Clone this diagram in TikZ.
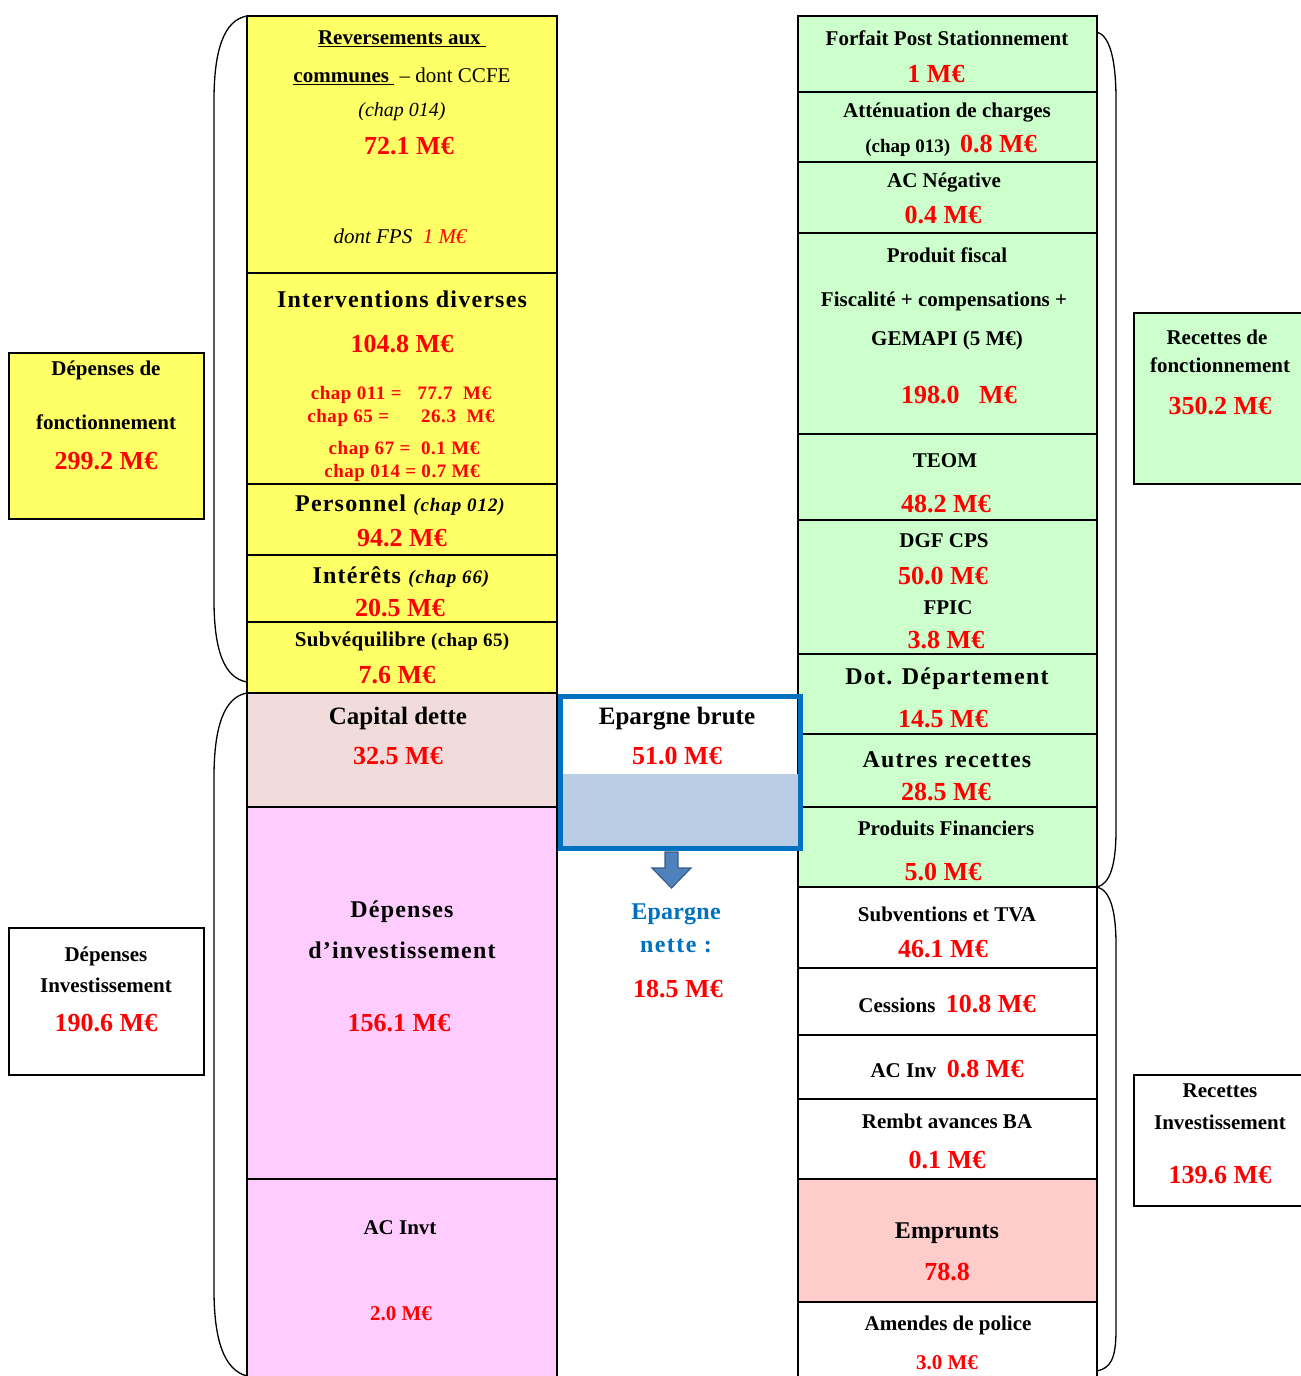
\documentclass[tikz,border=0pt]{standalone}
\usepackage{fontspec}
\setmainfont{Liberation Serif}
\definecolor{yel}{HTML}{FFFF66}
\definecolor{grn}{HTML}{CCFFCC}
\definecolor{pnk}{HTML}{FFCCFF}
\definecolor{capc}{HTML}{F2DCDB}
\definecolor{empc}{HTML}{FFCCCC}
\definecolor{eblue}{HTML}{0070C0}
\definecolor{lblue}{HTML}{B9CDE5}
\definecolor{arrf}{HTML}{4F81BD}
\definecolor{arrd}{HTML}{385D8A}
\definecolor{vred}{HTML}{FF0000}
\newcommand\fs[1]{\fontsize{#1}{#1}\selectfont}
% \cellnode{name}{fill}{x1}{y1}{x2}{y2}
\newcommand\cellnode[6]{\node[cellbox,fill=#2,minimum width={#5-#3},minimum height={#6-#4}] (#1) at (#3,#4) {};}
\begin{document}
\begin{tikzpicture}[x=1pt,y=-1pt,
  cellbox/.style={draw=black,line width=1.8pt,anchor=north west,inner sep=0pt,outer sep=0pt},
  tl/.style={inner sep=0pt,font=\bfseries\fs{21}},
  tb/.style={inner sep=0pt,font=\bfseries\fs{25}},
  tsp/.style={inner sep=0pt,font=\bfseries\fs{24}\addfontfeature{LetterSpace=5}},
  val/.style={inner sep=0pt,text=vred,font=\bfseries\fs{26}},
  vals/.style={inner sep=0pt,text=vred,font=\bfseries\fs{21}},
  chp/.style={inner sep=0pt,text=vred,font=\bfseries\fs{19}\addfontfeature{LetterSpace=3}},
  bracestyle/.style={draw=black,line width=1.3pt}]
\useasboundingbox (0,0) rectangle (1301,1376);
\clip (0,0) rectangle (1301,1376);
\fill[white] (0,0) rectangle (1301,1376);

% ---- left column
\cellnode{rev}{yel}{247}{16}{557}{273}
\cellnode{intv}{yel}{247}{273}{557}{484}
\cellnode{pers}{yel}{247}{484}{557}{555}
\cellnode{inter}{yel}{247}{555}{557}{622}
\cellnode{subv}{yel}{247}{622}{557}{693}
\cellnode{capd}{capc}{247}{693}{557}{807}
\cellnode{dinv}{pnk}{247}{807}{557}{1179}
\cellnode{acinvt}{pnk}{247}{1179}{557}{1400}

% ---- right column
\cellnode{fps}{grn}{798}{16}{1097}{92}
\cellnode{att}{grn}{798}{92}{1097}{162}
\cellnode{acneg}{grn}{798}{162}{1097}{233}
\cellnode{pfisc}{grn}{798}{233}{1097}{434}
\cellnode{teom}{grn}{798}{434}{1097}{520}
\cellnode{dgf}{grn}{798}{520}{1097}{654}
\cellnode{dot}{grn}{798}{654}{1097}{734}
\cellnode{autr}{grn}{798}{734}{1097}{807}
\cellnode{pfin}{grn}{798}{807}{1097}{887}
\cellnode{subtva}{white}{798}{887}{1097}{968}
\cellnode{cess}{white}{798}{968}{1097}{1035}
\cellnode{acinv}{white}{798}{1035}{1097}{1099}
\cellnode{rembt}{white}{798}{1099}{1097}{1179}
\cellnode{empr}{empc}{798}{1179}{1097}{1302}
\cellnode{amend}{white}{798}{1302}{1097}{1400}

% ---- side boxes
\cellnode{depf}{yel}{9}{353}{204}{519}
\cellnode{recf}{grn}{1134}{313}{1320}{484}
\cellnode{depi}{white}{9}{928}{204}{1075}
\cellnode{reci}{white}{1134}{1075}{1320}{1206}

% ---- braces
\draw[bracestyle] (247,16) .. controls (224,20) and (214,50) .. (214,100) -- (214,600) .. controls (214,650) and (224,678) .. (247,682);
\draw[bracestyle] (247,693) .. controls (224,697) and (214,727) .. (214,777) -- (214,1290) .. controls (214,1340) and (224,1370) .. (247,1376);
\draw[bracestyle] (1097,32) .. controls (1110,36) and (1116,60) .. (1116,100) -- (1116,830) .. controls (1116,865) and (1110,884) .. (1097,887);
\draw[bracestyle] (1097,887) .. controls (1110,890) and (1116,910) .. (1116,945) -- (1116,1330) .. controls (1116,1360) and (1110,1368) .. (1097,1371);

% ---- epargne box
\node[anchor=north west,fill=lblue,inner sep=0pt,minimum width=240,minimum height=72] (ebfill) at (558,774) {};
\node[anchor=north west,draw=eblue,line width=5pt,inner sep=0pt,minimum width=240,minimum height=152.5] (eb) at (558,693.5) {};
\draw[fill=arrf,draw=arrd,line width=1.2pt] (665,852) -- (678,852) -- (678,868) -- (691,868) -- (671.5,888) -- (652,868) -- (665,868) -- cycle;

% ---- left column texts
\node[tl] (t1) at (402,39) {\underline{Reversements aux\ }};
\node[tl] (t2) at (402,76) {\underline{communes }\mdseries\ – dont CCFE};
\node[inner sep=0pt,font=\itshape\fs{20}] (t3) at (402,112) {(chap 014)};
\node[val] (t4) at (409,146) {72.1 M€};
\node[inner sep=0pt,font=\itshape\fs{21}] (t5) at (400,236) {dont FPS\ \ \textcolor{vred}{1 M€}};

\node[tsp] (t6) at (402,299) {Interventions diverses};
\node[val] (t7) at (402,344) {104.8 M€};
\node[chp] (t8) at (401,395) {chap 011 =\ \ \ 77.7\ \ M€};
\node[chp] (t9) at (401,418) {chap 65 =\ \ \ \ \ \ 26.3\ \ M€};
\node[chp] (t10) at (404,450) {chap 67 =\ \ 0.1 M€};
\node[chp] (t11) at (402,473) {chap 014 =\ 0.7 M€};

\node[tsp] (t12) at (400,505) {Personnel {\fs{19}\itshape (chap 012)}};
\node[val] (t13) at (402,538) {94.2 M€};
\node[tsp] (t14) at (401,577) {Intérêts {\fs{19}\itshape (chap 66)}};
\node[val] (t15) at (400,608) {20.5 M€};
\node[inner sep=0pt,font=\bfseries\fs{21}\addfontfeature{LetterSpace=2}] (t16) at (402,641) {Subvéquilibre {\fs{19}(chap 65)}};
\node[val] (t17) at (397,675) {7.6 M€};

\node[tb] (t18) at (398,718) {Capital dette};
\node[val] (t19) at (398,756) {32.5 M€};

\node[tsp] (t20) at (402,912) {Dépenses};
\node[tsp] (t21) at (402,950) {d’investissement};
\node[val] (t22) at (399,1023) {156.1 M€};

\node[tl] (t23) at (400,1228) {AC Invt};
\node[vals] (t24) at (401,1314) {2.0 M€};

% ---- middle texts
\node[tb] (m1) at (677,719) {Epargne brute};
\node[val] (m2) at (677,756) {51.0 M€};
\node[inner sep=0pt,text=eblue,font=\bfseries\fs{24}\addfontfeature{LetterSpace=1}] (m3) at (676,914) {Epargne};
\node[inner sep=0pt,text=eblue,font=\bfseries\fs{24}\addfontfeature{LetterSpace=6}] (m4) at (676,946) {nette :};
\node[val] (m5) at (678,989) {18.5 M€};

% ---- right column texts
\node[tl] (r1) at (947,38) {Forfait Post Stationnement};
\node[val] (r2) at (936,74) {1 M€};
\node[tl] (r3) at (947,113) {Atténuation de charges};
\node[inner sep=0pt] (r4) at (951,146) {{\bfseries\fs{19}(chap 013)}\ \ \ \ {\color{vred}\bfseries\fs{26}0.8 M€}};
\node[tl] (r5) at (944,183) {AC Négative};
\node[val] (r6) at (943,215) {0.4 M€};
\node[tl] (r7) at (947,255) {Produit fiscal};
\node[tl] (r8) at (944,301) {Fiscalité + compensations +};
\node[tl] (r9) at (947,340) {GEMAPI (5 M€)};
\node[val] (r10) at (959,395) {198.0\ \ \ M€};
\node[tl] (r11) at (945,461) {TEOM};
\node[val] (r12) at (946,504) {48.2 M€};
\node[tl] (r13) at (944,541) {DGF CPS};
\node[val] (r14) at (943,576) {50.0 M€};
\node[tl] (r15) at (948,608) {FPIC};
\node[val] (r16) at (946,640) {3.8 M€};
\node[tsp] (r17) at (947,679) {Dot. Département};
\node[val] (r18) at (943,719) {14.5 M€};
\node[tsp] (r19) at (947,760) {Autres recettes};
\node[val] (r20) at (946,792) {28.5 M€};
\node[tl] (r21) at (946,828) {Produits Financiers};
\node[val] (r22) at (943,872) {5.0 M€};
\node[tl] (r23) at (947,914) {Subventions et TVA};
\node[val] (r24) at (943,949) {46.1 M€};
\node[tl] (r25) at (947,1004) {Cessions\ \ {\color{vred}\fs{26}10.8 M€}};
\node[tl] (r26) at (947,1069) {AC Inv\ \ {\color{vred}\fs{26}0.8 M€}};
\node[tl] (r27) at (947,1121) {Rembt avances BA};
\node[val] (r28) at (947,1160) {0.1 M€};
\node[inner sep=0pt,font=\bfseries\fs{24}] (r29) at (947,1233) {Emprunts};
\node[val] (r30) at (947,1272) {78.8};
\node[tl] (r31) at (948,1325) {Amendes de police};
\node[vals] (r32) at (947,1363) {3.0 M€};

% ---- side texts
\node[tl] (s1) at (106,370) {Dépenses de};
\node[tl] (s2) at (106,422) {fonctionnement};
\node[val] (s3) at (106,461) {299.2 M€};
\node[tl] (s4) at (1217,337) {Recettes de};
\node[tl] (s5) at (1220,365) {fonctionnement};
\node[val] (s6) at (1220,406) {350.2 M€};
\node[tl] (s7) at (106,956) {Dépenses};
\node[tl] (s8) at (106,985) {Investissement};
\node[val] (s9) at (106,1023) {190.6 M€};
\node[tl] (s10) at (1220,1091) {Recettes};
\node[tl] (s11) at (1220,1122) {Investissement};
\node[val] (s12) at (1220,1175) {139.6 M€};
\end{tikzpicture}
\end{document}
